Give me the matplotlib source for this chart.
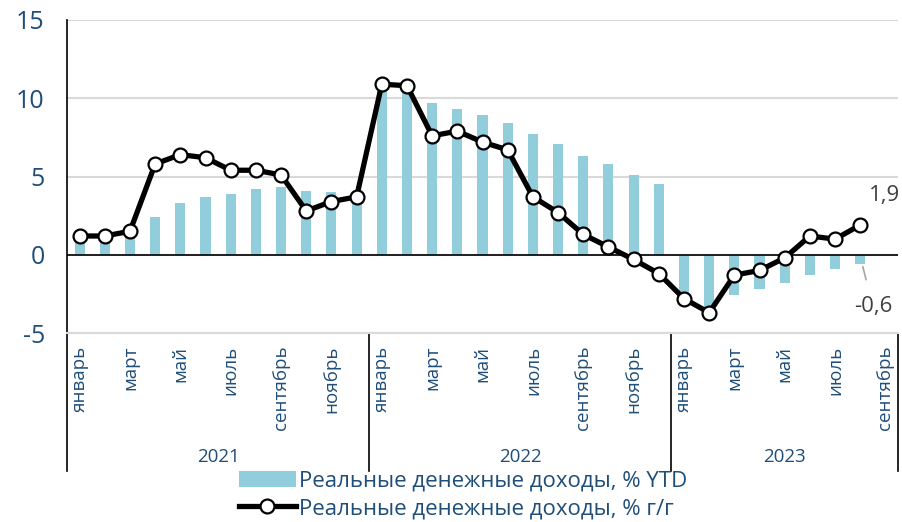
import numpy as np
import matplotlib
matplotlib.use("Agg")
import matplotlib.pyplot as plt
from matplotlib import font_manager
from matplotlib.lines import Line2D
from matplotlib.patches import Patch
import matplotlib.transforms as mtransforms

# pick a narrow font if available (original looks like Calibri)
names = {f.name for f in font_manager.fontManager.ttflist}
base = 'Liberation Sans Narrow' if 'Liberation Sans Narrow' in names else 'Open Sans'
plt.rcParams['font.family'] = [base, 'DejaVu Sans']
plt.rcParams['axes.unicode_minus'] = False

months = ['январь', 'февраль', 'март', 'апрель', 'май', 'июнь', 'июль',
          'август', 'сентябрь', 'октябрь', 'ноябрь', 'декабрь']
years = ['2021', '2022', '2023']
n_months = [12, 12, 9]

ytd = [1.2, 1.2, 1.3, 2.4, 3.3, 3.7, 3.9, 4.2, 4.3, 4.1, 4.0, 3.7,
       10.6, 10.4, 9.7, 9.3, 8.9, 8.4, 7.7, 7.1, 6.3, 5.8, 5.1, 4.5,
       -2.8, -3.5, -2.6, -2.2, -1.8, -1.3, -0.9, -0.6, np.nan]
yoy = [1.2, 1.2, 1.5, 5.8, 6.4, 6.2, 5.4, 5.4, 5.1, 2.8, 3.4, 3.7,
       10.9, 10.8, 7.6, 7.9, 7.2, 6.7, 3.7, 2.7, 1.3, 0.5, -0.3, -1.2,
       -2.8, -3.7, -1.3, -1.0, -0.2, 1.2, 1.0, 1.9, np.nan]

ytd_label = 'Реальные денежные доходы, % YTD'
yoy_label = 'Реальные денежные доходы, % г/г'

TXT = '#1F4E79'
BAR = '#92CDDC'

tick_labels = []
for n in n_months:
    for i in range(n):
        tick_labels.append(months[i] if i % 2 == 0 else '')

x = np.arange(len(ytd))

fig = plt.figure(figsize=(9.02, 5.22), dpi=100)
ax = fig.add_axes([0.0743, 0.362, 0.9213, 0.5997])

ax.bar(x, ytd, width=0.4, color=BAR, zorder=2)
ax.axhline(0, color='black', lw=1.2, zorder=3)
ax.plot(x, yoy, color='black', lw=3.8, marker='o', ms=10,
        mfc='white', mec='black', mew=1.6, zorder=4)

ax.set_xlim(-0.5, len(x) - 0.5)
ax.set_ylim(-5, 15)
ax.set_yticks([-5, 0, 5, 10, 15])
ax.grid(axis='y', color='#D9D9D9', lw=1.5, zorder=0)
ax.tick_params(axis='y', length=0, labelsize=18, labelcolor=TXT, pad=16)

ax.set_xticks(x)
ax.set_xticklabels(tick_labels, rotation=90, va='top', ha='center')
ax.tick_params(axis='x', length=0, labelsize=13.5, labelcolor=TXT, pad=9)

for s in ['top', 'right']:
    ax.spines[s].set_visible(False)
ax.spines['bottom'].set_color('#D9D9D9')
ax.spines['bottom'].set_linewidth(1.5)
ax.spines['left'].set_color('black')
ax.spines['left'].set_linewidth(1.2)

# year groups under the month labels
trans = mtransforms.blended_transform_factory(ax.transData, ax.transAxes)
edge = -0.5
for yr, n in zip(years, n_months):
    ax.plot([edge, edge], [0, -0.44], color='black', lw=1.2,
            transform=trans, clip_on=False)
    ax.text(edge + n / 2, -0.395, yr, transform=trans, ha='center',
            va='center', fontsize=13.5, color=TXT)
    edge += n
ax.plot([edge, edge], [0, -0.44], color='black', lw=1.2,
        transform=trans, clip_on=False)

# data labels
ax.annotate('1,9', xy=(31, 1.9), xytext=(31.95, 3.8), ha='center', va='center',
            fontsize=16, color='#404040')
ax.annotate('-0,6', xy=(31.1, -0.75), xytext=(31.5, -3.3), ha='center',
            va='center', fontsize=16, color='#404040',
            arrowprops=dict(arrowstyle='-', color='#A6A6A6', lw=1.2,
                            shrinkA=10, shrinkB=0))

handles = [Patch(facecolor=BAR, edgecolor='none'),
           Line2D([], [], color='black', lw=3.8, marker='o', ms=10,
                  mfc='white', mec='black', mew=1.6)]
leg = fig.legend(handles, [ytd_label, yoy_label], loc='upper center',
                 bbox_to_anchor=(0.513, 0.119), ncol=1, frameon=False,
                 fontsize=16, handlelength=2.6, handletextpad=0.1,
                 labelspacing=0.28, borderpad=0)
for t in leg.get_texts():
    t.set_color(TXT)

fig.savefig('out.png', dpi=100)
